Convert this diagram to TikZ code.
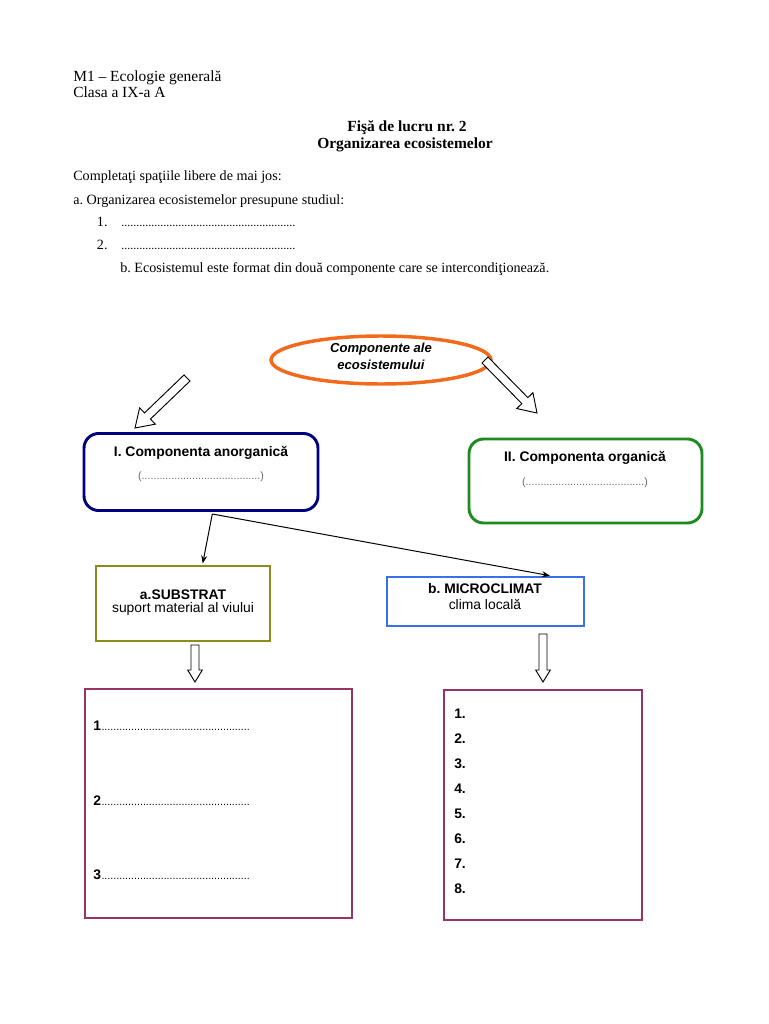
\documentclass[tikz,border=0pt]{standalone}
\usepackage{fontspec}
\setmainfont{Liberation Serif}
\setsansfont{Liberation Sans}
\usetikzlibrary{calc,arrows.meta}
\frenchspacing
\definecolor{ellorange}{HTML}{F26B1D}
\definecolor{navyb}{HTML}{000080}
\definecolor{greenb}{HTML}{1F8A1F}
\definecolor{oliveb}{HTML}{8C8C1A}
\definecolor{blueb}{HTML}{3A6FEA}
\definecolor{plumb}{HTML}{993366}
\newdimen\px \px=0.75pt
\newcommand{\hollowarrow}[5]{%
  \coordinate (hb) at ($(#2)!#5!(#1)$);
  \draw[hollowarr] ($(#1)!#3!90:(#2)$) -- ($(hb)!#3!90:(#2)$) -- ($(hb)!#4!90:(#2)$) -- (#2)
    -- ($(hb)!#4!-90:(#2)$) -- ($(hb)!#3!-90:(#2)$) -- ($(#1)!#3!-90:(#2)$) -- cycle;}
\newcommand{\dotrow}[1]{\foreach \i in {1,...,#1}{.}}
\tikzset{
  serif/.style={font=\fontsize{11.6}{14}\selectfont, anchor=base west, inner sep=0pt},
  body/.style={font=\fontsize{10.6}{13}\selectfont, anchor=base west, inner sep=0pt},
  serifb/.style={font=\fontsize{11.6}{14}\selectfont\bfseries, anchor=base, inner sep=0pt},
  sans/.style={font=\sffamily\fontsize{10.4}{12}\selectfont, inner sep=0pt},
  sansb/.style={font=\sffamily\bfseries\fontsize{10.4}{12}\selectfont, inner sep=0pt},
  hollowarr/.style={draw=black, line width=0.7pt, fill=white, line join=miter},
  thinarr/.style={draw=black, line width=0.75pt, -{Stealth[length=6pt,width=4.5pt]}},
  rbox/.style={draw, line width=2.2pt, rounded corners=11pt, inner sep=0pt},
  sbox/.style={draw, line width=2pt, inner sep=0pt},
}
\begin{document}
\begin{tikzpicture}[x=0.75pt,y=-0.75pt]
\useasboundingbox[fill=white] (0,0) rectangle (768,1024);
% header texts
\node[serif] (h1) at (73,81.7) {M1 – Ecologie generală};
\node[serif] (h2) at (73,97.7) {Clasa a IX-a A};
\node[serifb] (t1) at (407,131.7) {Fişă de lucru nr. 2};
\node[serifb] (t2) at (405,148) {Organizarea ecosistemelor};
\node[body] (p1) at (73,180.7) {Completaţi spaţiile libere de mai jos:};
\node[body] (p2) at (73,204.3) {a. Organizarea ecosistemelor presupune studiul:};
\node[body] (n1) at (96.7,226.7) {1.};
\node[body,font=\fontsize{9}{10}\selectfont] (d1) at (121,226.7) {\dotrow{58}};
\node[body] (n2) at (96.7,249.3) {2.};
\node[body,font=\fontsize{9}{10}\selectfont] (d2) at (121,249.3) {\dotrow{58}};
\node[body] (p3) at (120,272.3) {b. Ecosistemul este format din două componente care se intercondiţionează.};

% ellipse
\draw[ellorange, line width=2.6pt] (381,360) ellipse [x radius=110, y radius=24];
\node[sansb, font=\sffamily\bfseries\itshape\fontsize{9.8}{13}\selectfont, align=center] (eltxt) at (381,356) {Componente ale\\ecosistemului};

% boxes
\node[rbox, navyb, minimum width=234\px, minimum height=77\px] (boxI) at (201,472) {};
\node[sansb] (boxIt) at (201,453) {I. Componenta anorganică};
\node[sans, gray!80!black, font=\sffamily\fontsize{8}{10}\selectfont] (boxId) at (201,477) {(\dotrow{40})};

\node[rbox, greenb, minimum width=233\px, minimum height=84\px] (boxII) at (585.5,481) {};
\node[sansb] (boxIIt) at (585,458) {II. Componenta organică};
\node[sans, gray!80!black, font=\sffamily\fontsize{8}{10}\selectfont] (boxIId) at (585,483) {(\dotrow{40})};

\node[sbox, oliveb, minimum width=174\px, minimum height=75\px] (boxA) at (183,603.5) {};
\node[sansb] (boxAt) at (183,595) {a.SUBSTRAT};
\node[sans] (boxAs) at (183,609) {suport material al viului};

\node[sbox, blueb, minimum width=197\px, minimum height=49\px] (boxB) at (485.5,601.5) {};
\node[sansb] (boxBt) at (485,589) {b. MICROCLIMAT};
\node[sans] (boxBs) at (485,604) {clima locală};

\node[sbox, plumb, line width=2.2pt, minimum width=267\px, minimum height=229\px] (boxL) at (218.5,803.5) {};
\node[sbox, plumb, line width=2.2pt, minimum width=198\px, minimum height=230\px] (boxR) at (543,805) {};

% left list
\foreach \k/\yy in {1/726,2/801,3/875}{
  \node[sansb, anchor=west] (l\k) at (93,\yy) {\k};
  \node[sans, anchor=base west, font=\sffamily\fontsize{8}{10}\selectfont] (ld\k) at (l\k.base east) {\dotrow{50}};
}
% right list
\foreach \k in {1,...,8}{
  \node[sansb, anchor=west] (r\k) at (454,{714+25*(\k-1)}) {\k.};
}

% hollow arrows
\coordinate (ha1s) at (187,378); \coordinate (ha1e) at (135,428);
\coordinate (ha2s) at (485,360); \coordinate (ha2e) at (537,413);
\hollowarrow{ha1s}{ha1e}{3.2pt}{8.5pt}{13pt}
\hollowarrow{ha2s}{ha2e}{3.2pt}{8.5pt}{13pt}
\coordinate (ha3s) at (195,645); \coordinate (ha3e) at (195,682);
\coordinate (ha4s) at (543,634); \coordinate (ha4e) at (543,682);
\hollowarrow{ha3s}{ha3e}{3pt}{5.5pt}{9pt}
\hollowarrow{ha4s}{ha4e}{3pt}{5.5pt}{9pt}

% thin connectors
\coordinate (src) at (212.3,514);
\coordinate (tipA) at (202.7,563.5);
\coordinate (tipB) at (550,575.7);
\draw[thinarr] (src) -- (tipA);
\draw[thinarr] (src) -- (tipB);
\end{tikzpicture}
\end{document}
